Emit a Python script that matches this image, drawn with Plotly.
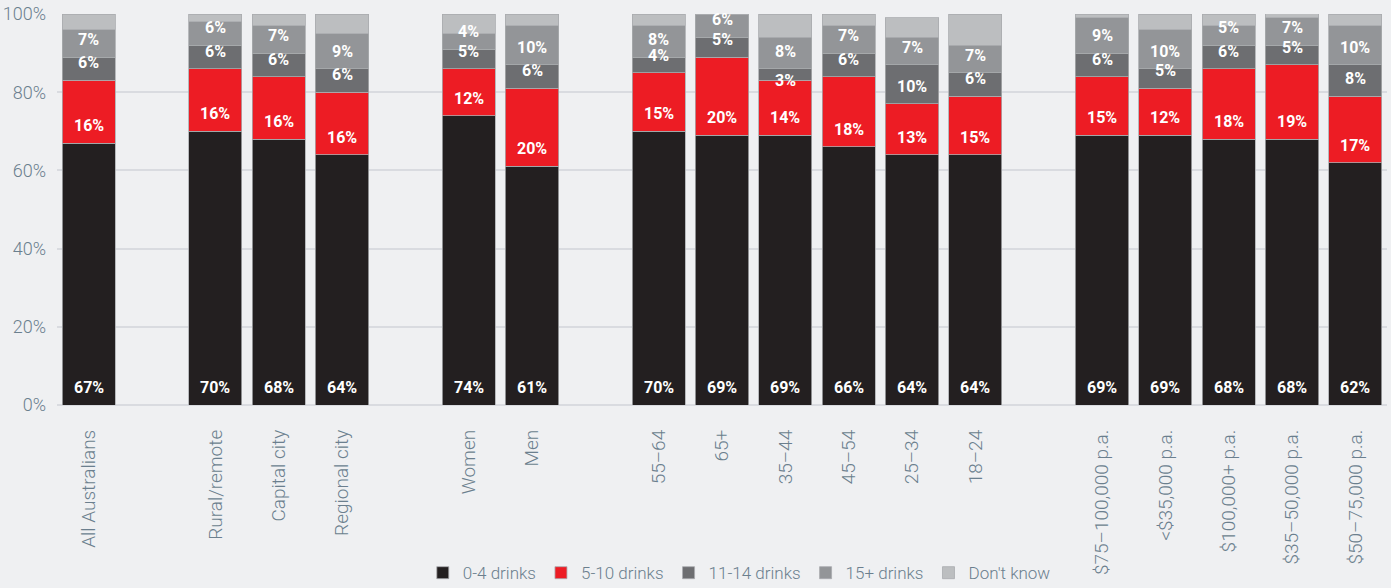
import plotly.graph_objects as go

# Category groups (a blank slot separates each group on the axis)
groups = [
    ["All Australians"],
    ["Rural/remote", "Capital city", "Regional city"],
    ["Women", "Men"],
    ["55–64", "65+", "35–44", "45–54", "25–34", "18–24"],
    ["$75–100,000 p.a.", "<$35,000 p.a.", "$100,000+ p.a.", "$35–50,000 p.a.", "$50–75,000 p.a."],
]

series_names = ["0-4 drinks", "5-10 drinks", "11-14 drinks", "15+ drinks", "Don't know"]

drinks_0_4 = [67, 70, 68, 64, 74, 61, 70, 69, 69, 66, 64, 64, 69, 69, 68, 68, 62]
drinks_5_10 = [16, 16, 16, 16, 12, 20, 15, 20, 14, 18, 13, 15, 15, 12, 18, 19, 17]
drinks_11_14 = [6, 6, 6, 6, 5, 6, 4, 5, 3, 6, 10, 6, 6, 5, 6, 5, 8]
drinks_15_plus = [7, 6, 7, 9, 4, 10, 8, 6, 8, 7, 7, 7, 9, 10, 5, 7, 10]
dont_know = [4, 2, 3, 5, 5, 3, 3, 0, 6, 3, 5, 8, 1, 4, 3, 2, 3]

y_ticks = [0, 20, 40, 60, 80, 100]
y_tick_labels = ["0%", "20%", "40%", "60%", "80%", "100%"]

colors = ["#231f20", "#ed1c24", "#6d6e71", "#939598", "#bcbec0"]

# Lay out x positions, leaving one empty slot between groups
categories, xpos = [], []
slot = 0
for gi, grp in enumerate(groups):
    if gi > 0:
        slot += 1
    for name in grp:
        categories.append(name)
        xpos.append(slot)
        slot += 1
n_slots = slot

series = [drinks_0_4, drinks_5_10, drinks_11_14, drinks_15_plus, dont_know]
labelled = [True, True, True, True, False]

font_family = "Roboto"
axis_color = "#6b7f8e"

fig = go.Figure()
for name, vals, col in zip(series_names, series, colors):
    fig.add_trace(go.Bar(
        x=xpos, y=vals, name=name,
        marker=dict(color=col, line=dict(color="#a9abae", width=0.8)),
        width=0.84,
        hoverinfo="skip",
    ))

# Value labels sit just above the base of each segment;
# very thin segments get their label centred on the segment's base
annotations = []
base = [0] * len(xpos)
for vals, show in zip(series, labelled):
    for i, v in enumerate(vals):
        if show and v > 0:
            thin = v < 4
            annotations.append(dict(
                x=xpos[i], y=base[i], xref="x", yref="y",
                text=f"<b>{v}%</b>", showarrow=False,
                yanchor="middle" if thin else "bottom", xanchor="center",
                yshift=0 if thin else 6,
                font=dict(family=font_family, size=16, color="white"),
            ))
        base[i] += v

fig.update_layout(
    barmode="stack",
    width=1391, height=588,
    margin=dict(l=57, r=4, t=14, b=183, autoexpand=False),
    paper_bgcolor="#eff0f2",
    plot_bgcolor="#eff0f2",
    annotations=annotations,
    showlegend=True,
    legend=dict(
        orientation="h", x=0.513, xanchor="center", y=-0.43, yanchor="middle",
        traceorder="normal",
        font=dict(family=font_family, size=17, color=axis_color, weight=300),
        itemwidth=30,
    ),
    xaxis=dict(
        range=[-0.5, n_slots - 0.5],
        tickvals=xpos, ticktext=categories,
        tickangle=-90,
        tickfont=dict(family=font_family, size=19, color=axis_color, weight=300),
        showgrid=False, zeroline=False, showline=False, ticks="",
        ticklabelstandoff=20, automargin=False,
    ),
    yaxis=dict(
        range=[0, 100],
        tickvals=y_ticks, ticktext=y_tick_labels,
        tickfont=dict(family=font_family, size=18, color=axis_color, weight=300),
        showgrid=True, gridcolor="#d9dbe0", gridwidth=1.5,
        zeroline=True, zerolinecolor="#d9dbe0", zerolinewidth=1.5,
        showline=False, ticks="",
        ticklabelstandoff=10, automargin=False,
    ),
)

fig.write_html("out.html")
